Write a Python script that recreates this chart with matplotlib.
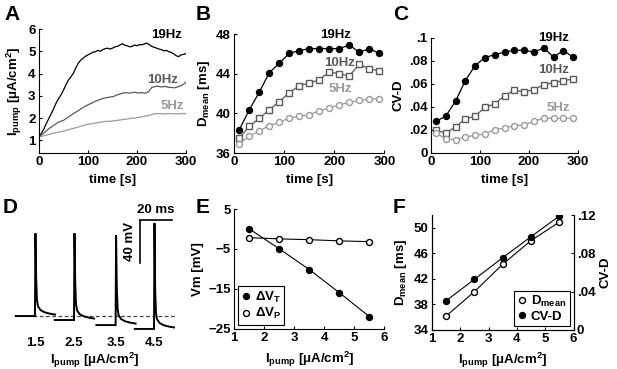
import numpy as np
import matplotlib
matplotlib.use('Agg')
import matplotlib.pyplot as plt

plt.rcParams['font.family'] = ['Liberation Sans', 'DejaVu Sans']
plt.rcParams['font.weight'] = 'bold'
plt.rcParams['axes.labelweight'] = 'bold'
plt.rcParams['font.size'] = 9.5
plt.rcParams['mathtext.fontset'] = 'custom'
plt.rcParams['mathtext.rm'] = 'Liberation Sans:bold'
plt.rcParams['mathtext.it'] = 'Liberation Sans:bold'
plt.rcParams['mathtext.bf'] = 'Liberation Sans:bold'
plt.rcParams['mathtext.default'] = 'rm'
plt.rcParams['axes.linewidth'] = 0.8

# ---- data ----
# A: pump current over time (noisy traces)
a_time = [0, 5, 10, 15, 20, 25, 30, 35, 40, 45, 50, 55, 60, 65, 70, 75, 80, 85, 90, 95,
          100, 105, 110, 115, 120, 125, 130, 135, 140, 145, 150, 155, 160, 165, 170, 175,
          180, 185, 190, 195, 200, 205, 210, 215, 220, 225, 230, 235, 240, 245, 250, 255,
          260, 265, 270, 275, 280, 285, 290, 295, 300]
a_19hz = [1.15, 1.32, 1.52, 1.76, 1.98, 2.2, 2.43, 2.68, 2.88, 3.05, 3.26, 3.5, 3.71, 3.85,
          4.01, 4.25, 4.46, 4.6, 4.69, 4.78, 4.84, 4.9, 4.96, 4.98, 5.04, 5.0, 5.07, 5.12,
          5.14, 5.1, 5.14, 5.2, 5.22, 5.28, 5.34, 5.27, 5.25, 5.2, 5.22, 5.28, 5.25, 5.3,
          5.29, 5.33, 5.37, 5.3, 5.22, 5.18, 5.14, 5.1, 5.07, 5.02, 5.04, 4.98, 4.95, 4.88,
          4.8, 4.76, 4.84, 4.86, 4.9]
a_10hz = [1.15, 1.25, 1.33, 1.43, 1.53, 1.6, 1.68, 1.75, 1.83, 1.86, 1.9, 1.98, 2.05, 2.13,
          2.2, 2.27, 2.33, 2.41, 2.48, 2.54, 2.6, 2.65, 2.7, 2.76, 2.8, 2.84, 2.88, 2.91,
          2.93, 2.95, 2.96, 3.0, 3.05, 3.08, 3.12, 3.14, 3.14, 3.12, 3.15, 3.16, 3.14, 3.13,
          3.15, 3.12, 3.14, 3.22, 3.38, 3.4, 3.44, 3.42, 3.4, 3.42, 3.41, 3.38, 3.38, 3.36,
          3.38, 3.42, 3.46, 3.52, 3.62]
a_5hz = [1.15, 1.18, 1.21, 1.24, 1.27, 1.3, 1.32, 1.35, 1.37, 1.4, 1.42, 1.45, 1.48, 1.51,
         1.54, 1.57, 1.6, 1.64, 1.67, 1.7, 1.72, 1.74, 1.76, 1.78, 1.8, 1.82, 1.83, 1.85,
         1.86, 1.86, 1.87, 1.89, 1.9, 1.92, 1.93, 1.95, 1.96, 1.98, 2.0, 2.0, 2.02, 2.04,
         2.06, 2.08, 2.1, 2.13, 2.16, 2.2, 2.2, 2.21, 2.2, 2.19, 2.2, 2.21, 2.2, 2.2,
         2.19, 2.2, 2.2, 2.21, 2.2]

# B, C: binned duration statistics
bc_time = [10, 30, 50, 70, 90, 110, 130, 150, 170, 190, 210, 230, 250, 270, 290]
b_19hz = [38.35, 40.37, 42.15, 44.13, 45.08, 46.08, 46.35, 46.55, 46.55, 46.55, 46.55,
          46.92, 46.18, 46.55, 46.08]
b_10hz = [37.5, 38.7, 39.5, 40.37, 41.2, 42.1, 42.8, 43.06, 43.4, 44.2, 44.0, 43.8,
          44.97, 44.5, 44.3]
b_5hz = [36.94, 37.68, 38.25, 38.76, 39.1, 39.53, 39.73, 39.87, 40.27, 40.54, 40.87,
         41.11, 41.31, 41.45, 41.48]
c_19hz = [.0275, .032, .045, .063, .076, .083, .0855, .0878, .0893, .0893, .0878, .0913,
          .0835, .089, .0835]
c_10hz = [.0197, .0174, .0226, .0296, .032, .0397, .0426, .0499, .0545, .0533, .055,
          .0594, .0612, .0629, .0643]
c_5hz = [.0174, .0122, .0116, .0139, .0154, .0165, .0203, .0217, .0238, .0243, .0275,
         .0304, .0301, .0301, .0301]

# D: example spikes (ms, mV)
d_labels = ['1.5', '2.5', '3.5', '4.5']
d_onset = [15.6, 40.0, 66.0, 90.0]
d_base = [-60.0, -63.7, -68.4, -72.0]
d_peak = [17.0, 17.0, 15.0, 26.5]
spk_dt = [-12, 0, 0.3, 0.75, 1.25, 1.9, 3.5, 6.0, 9.0, 12.5]
spk_dv = [0, 0, None, 35, 15, 9, 5.5, 3.5, 2.3, 1.4]

# E, F: vs pump current
ipump = [1.5, 2.5, 3.5, 4.5, 5.5]
dvt = [0.0, -5.0, -10.2, -16.0, -22.0]
dvp = [-2.2, -2.5, -2.7, -3.0, -3.2]
f_dmean = [36.2, 40.0, 44.3, 48.0, 50.9]
f_cvd = [.0306, .0529, .0755, .0974, .119]

W, H = 617, 369


def box(l, t, r, b):
    return [l / W, 1 - b / H, (r - l) / W, (b - t) / H]


def style(ax):
    ax.spines['top'].set_visible(False)
    ax.spines['right'].set_visible(False)
    ax.tick_params(direction='in', length=2.5, width=0.8, pad=2.5)


fig = plt.figure(figsize=(W / 100, H / 100), dpi=100)

c19, c10, c5 = 'black', '#5a5a5a', '#9a9a9a'
ipump_label = r'I$_{pump}$ [μA/cm$^{2}$]'

# ---- A ----
axA = fig.add_axes(box(39, 29, 186, 152.7))
style(axA)
axA.plot(a_time, a_19hz, color=c19, lw=0.9)
axA.plot(a_time, a_10hz, color=c10, lw=0.9)
axA.plot(a_time, a_5hz, color=c5, lw=0.9)
axA.set_xlim(0, 300)
axA.set_ylim(0.45, 6)
axA.set_xticks([0, 100, 200, 300])
axA.set_yticks([1, 2, 3, 4, 5, 6])
axA.set_xlabel('time [s]', labelpad=4)
axA.set_ylabel(ipump_label, labelpad=3)
axA.text(261, 5.75, '19Hz', color=c19, ha='center', va='center')
axA.text(253, 3.71, '10Hz', color=c10, ha='center', va='center')
axA.text(273, 2.54, '5Hz', color=c5, ha='center', va='center')

# ---- B ----
axB = fig.add_axes(box(234.3, 34.3, 384.3, 153))
style(axB)
axB.plot(bc_time, b_19hz, '-o', color=c19, mfc=c19, mec=c19, ms=4.3, lw=0.9)
axB.plot(bc_time, b_10hz, '-s', color=c10, mfc='white', mec=c10, ms=4, lw=0.9)
axB.plot(bc_time, b_5hz, '-o', color=c5, mfc='white', mec=c5, ms=4.3, lw=0.9)
axB.set_xlim(0, 300)
axB.set_ylim(36, 48)
axB.set_xticks([0, 100, 200, 300])
axB.set_yticks([36, 40, 44, 48])
axB.set_xlabel('time [s]', labelpad=4)
axB.set_ylabel(r'D$_{mean}$ [ms]', labelpad=3)
axB.text(203, 47.9, '19Hz', color=c19, ha='center', va='center')
axB.text(211, 45.1, '10Hz', color=c10, ha='center', va='center')
axB.text(211, 42.5, '5Hz', color=c5, ha='center', va='center')

# ---- C ----
axC = fig.add_axes(box(431, 38, 578, 153))
style(axC)
axC.plot(bc_time, c_19hz, '-o', color=c19, mfc=c19, mec=c19, ms=4.3, lw=0.9)
axC.plot(bc_time, c_10hz, '-s', color=c10, mfc='white', mec=c10, ms=4, lw=0.9)
axC.plot(bc_time, c_5hz, '-o', color=c5, mfc='white', mec=c5, ms=4.3, lw=0.9)
axC.set_xlim(0, 300)
axC.set_ylim(0, 0.1)
axC.set_xticks([0, 100, 200, 300])
axC.set_yticks([0, .02, .04, .06, .08, .1])
axC.set_yticklabels(['0', '.02', '.04', '.06', '.08', '.1'])
axC.set_xlabel('time [s]', labelpad=4)
axC.set_ylabel('CV-D', labelpad=3)
axC.text(251, 0.1, '19Hz', color=c19, ha='center', va='center')
axC.text(251, 0.072, '10Hz', color=c10, ha='center', va='center')
axC.text(259, 0.039, '5Hz', color=c5, ha='center', va='center')

# ---- D ----
axD = fig.add_axes(box(10, 205, 180, 334))
for sp in axD.spines.values():
    sp.set_visible(False)
axD.set_xlim(0, 106.25)
axD.set_ylim(-76.7, 43.3)
axD.plot([14.4, 103], [-60, -60], '--', color='#444444', lw=0.9, dashes=(3, 2))
for on, base, pk in zip(d_onset, d_base, d_peak):
    tt = [on + t for t in spk_dt]
    vv = [base + (pk - base if v is None else v) for v in spk_dv]
    axD.plot(tt, vv, color='black', lw=1.4, solid_joinstyle='miter')
axD.plot([81.25, 101.25], [29.3, 29.3], color='black', lw=1.2)
axD.plot([81.25, 81.25], [29.3, -10.7], color='black', lw=1.2)
axD.text(91, 33, '20 ms', ha='center', va='bottom')
axD.text(79, 9, '40 mV', ha='right', va='center', rotation=90)
axD.set_xticks(d_onset)
axD.set_xticklabels(d_labels)
axD.tick_params(length=0, pad=2.5)
axD.set_yticks([])
axD.set_xlabel(ipump_label, labelpad=1)

# ---- E ----
axE = fig.add_axes(box(234.3, 209, 384.3, 328.5))
style(axE)
axE.plot(ipump, dvt, '-', color='black', lw=0.8)
axE.plot(ipump, dvp, '-', color='black', lw=0.8)
axE.plot(ipump, dvt, 'o', color='black', ms=4.3, label='ΔV$_{T}$')
axE.plot(ipump, dvp, 'o', mfc='white', mec='black', ms=4.3, label='ΔV$_{P}$')
axE.set_xlim(1, 6)
axE.set_ylim(-25, 5)
axE.set_xticks([1, 2, 3, 4, 5, 6])
axE.set_yticks([5, -5, -15, -25])
axE.set_xlabel(ipump_label, labelpad=4)
axE.set_ylabel('Vm [mV]', labelpad=3)
legE = axE.legend(loc='lower left', handlelength=0.6, handletextpad=0.4,
                  borderpad=0.25, labelspacing=0.1, fancybox=False,
                  edgecolor='black', framealpha=1, borderaxespad=0.3,
                  prop={'size': 9.5, 'weight': 'bold'})
legE.get_frame().set_linewidth(0.8)

# ---- F ----
axF = fig.add_axes(box(432, 215, 573.5, 330))
axF.spines['top'].set_visible(False)
axF.tick_params(direction='in', length=2.5, width=0.8, pad=2.5)
axF2 = axF.twinx()
axF2.spines['top'].set_visible(False)
axF2.tick_params(direction='in', length=2.5, width=0.8, pad=2.5)
axF.plot(ipump, f_dmean, '-', color='black', lw=0.8)
axF2.plot(ipump, f_cvd, '-', color='black', lw=0.8)
lF1, = axF.plot(ipump, f_dmean, 'o', mfc='white', mec='black', ms=4.3)
lF2, = axF2.plot(ipump, f_cvd, 'o', color='black', ms=4.3)
axF.set_xlim(1, 6)
axF.set_ylim(34, 52)
axF2.set_ylim(0, 0.12)
axF.set_xticks([1, 2, 3, 4, 5, 6])
axF.set_yticks([34, 38, 42, 46, 50])
axF2.set_yticks([0, .04, .08, .12])
axF2.set_yticklabels(['0', '.04', '.08', '.12'])
axF.set_xlabel(ipump_label, labelpad=4)
axF.set_ylabel(r'D$_{mean}$ [ms]', labelpad=3)
axF2.set_ylabel('CV-D', labelpad=3)
legF = axF2.legend([lF1, lF2], ['D$_{mean}$', 'CV-D'], loc='lower right',
                   handlelength=0.6, handletextpad=0.4, borderpad=0.25,
                   labelspacing=0.1, fancybox=False, edgecolor='black',
                   framealpha=1, borderaxespad=0.3,
                   prop={'size': 9.5, 'weight': 'bold'})
legF.get_frame().set_linewidth(0.8)

# panel letters
for lab, x, y in [('A', 4, 20), ('B', 196, 20), ('C', 393, 20),
                  ('D', 3, 213), ('E', 196, 213), ('F', 393, 213)]:
    fig.text(x / W, 1 - y / H, lab, fontsize=15, fontweight='bold', ha='left', va='baseline')

fig.savefig('out.png', dpi=100)
